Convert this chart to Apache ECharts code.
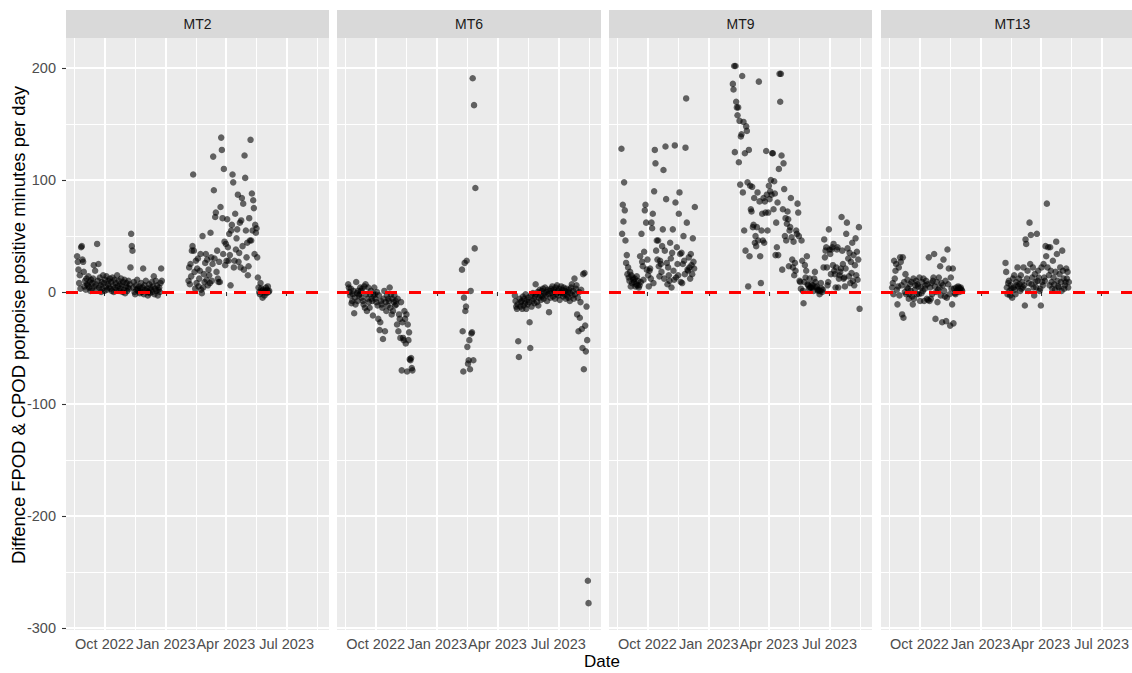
<!DOCTYPE html>
<html>
<head>
<meta charset="utf-8">
<script src="https://cdn.jsdelivr.net/npm/echarts@6/dist/echarts.min.js"></script>
<style>
  html, body { margin: 0; padding: 0; background: #ffffff; }
  #chart { width: 1132px; height: 673px; }
</style>
</head>
<body>
<div id="chart"></div>
<script>
// Daily difference (FPOD minus CPOD) in porpoise positive minutes, per mooring.
// Each deployment segment is a start date plus one value per consecutive day.
const siteNames = ['MT2', 'MT6', 'MT9', 'MT13'];

const mt2Starts = ['2022-08-21', '2023-02-04'];
const mt2Seg1 = [
  32, 27, 20, 8, 15, 3, 40, 41, 29, 27, 18, 5, 10, 2, 12, 7,
  6, 14, 4, 9, 1, 11, 3, 8, 12, 24, 5, 19, 7, 2, 43, 10, 25, 4, 13, 6, 0, 9, 3, 15, 8, 1, 11, 5, 14, 2, 7, 10, 4, 12,
  3, 9, 1, 13, 6, 0, 11, 4, 8, 2, 15, 5, 10, 1, 7, 3, 12, 6, 0, 9, 2, 11, -1, 5, 8, 1, 4, 10, 3, 7, 22, 52, 41, 37, 4, 9, 0, -2, 6, 2, 11, 3,
  1, 5, -1, 3, 8, 0, 4, 21, -2, 6, 2, 10, 1, 3, -3, 0, 7, -1, 4, 2, 9, 0, 5, 14, -2, 3, 10, 1, 6, -3, 2, 4, 0, 8, 21, 10
];
const mt2Seg2 = [
  10, 22, 7, 25, 14, 37, 41, 105, 37, 18,
  3, 28, 8, 21, 30, 5, 12, 19, 34, 2,
  -1, 50, 4, 16, 9, 26, 34, 11, 29, 6,
  20, 15, 8, 53, 31, 10, 25, 121, 91, 30,
  67, 71, 18, 37, 12, 9, 27, 9, 76, 138,
  127, 66, 34, 110, 45, 24, 43, 28, 65, 40,
  28, 52, 33, 6, 55, 60, 105, 98, 22, 28,
  70, 38, 48, 56, 87, 27, 35, 62, 22, 64,
  84, 41, 79, 20, 122, 102, 55, 31, 44, 15,
  23, 66, 46, 136, 46, 88, 55, 82, 75, 34,
  60, 53, 57, 31, 13, 4, 0, -2, 8, 3,
  1, -5, 2, 0, -3, 1, 4, -1, 2, 5, 0, 1
];

const mt6Starts = ['2022-08-21', '2023-02-07', '2023-04-27'];
const mt6Seg1 = [
  7, 4, 0, -3, 3, -10, -8, -2, 1, -19,
  -5, -11, 9, -1, -8, 1, -3, -2, 4, 1,
  -5, 3, -8, -11, 5, -14, 7, -2, -17, -6,
  4, -9, -14, -2, 1, -6, -8, -21, -3, 4,
  -2, -6, -9, 0, -12, -24, -3, -34, -27, -8,
  -11, -14, -42, -6, 1, -35, -9, -17, -3, -12,
  -6, -8, 4, -14, -2, -20, -6, -17, -9, -3,
  -12, -8, -11, -29, -6, -35, -20, -24, -41, -9,
  -70, -27, -41, -43, -17, -24, -46, -20, -71, -29,
  -43, -36, -60, -61, -59, -68, -70
];
const mt6Seg2 = [20, -35, -71, -5, 26, -17, -13, 28, -49, -64, -61, -43, -69, 1, -37, -36, 191, -61, 167, 39, 93];
const mt6Seg3 = [
  -3, -8, -13, -15, -11, -44, -58, -6, -13, -9,
  -8, -15, -4, -12, -6, -10, -2, -15, -7, -11,
  -5, -9, -27, -50, -3, -13, -8, -1, -6, -10,
  -4, 7, -2, -9, 0, -12, -5, 2, -3, -7,
  1, -4, 3, -6, -1, 4, -3, 0, -8, 2,
  -2, -18, 1, -5, 3, -1, 5, -4, 2, 0,
  -6, 4, -2, 6, 1, -3, 3, -7, 0, 5,
  -1, 2, -4, 4, -2, 1, -6, 3, -3, 0,
  -5, 2, -8, -1, 4, 7, -3, 1, -6, 12,
  -2, 3, 6, -20, -5, -35, 0, -23, -9, 2,
  -33, -50, 16, -69, 17, -30, -53, -13, -43, -258, -278
];

const mt9Starts = ['2022-08-23', '2023-02-06'];
const mt9Seg1 = [
  128, 52, 78, 63, 98, 73, 46, 26, 33, 16,
  22, 13, 10, 18, 5, 15, 8, 13, 11, 9,
  12, 5, 7, 14, 6, 10, 4, 6, 32, 9,
  52, 27, 23, 11, 36, 73, 78, 62, 20, 29,
  15, 5, 19, 21, 12, 62, 57, 70, 8, 90,
  127, 115, 37, 46, 29, 46, 23, 14, 28, 25,
  18, 41, 56, 109, 12, 37, 130, 83, 26, 7,
  22, 15, 10, 44, 30, 4, 35, 56, 19, 11,
  131, 80, 13, 40, 25, 15, 70, 89, 34, 9,
  35, 8, 25, 50, 28, 16, 129, 173, 62, 20,
  19, 31, 22, 12, 34, 24, 16, 48, 27, 21, 76
];
const mt9Seg2 = [
  186, 181, 202, 125, 202, 170, 165, 158, 165, 116,
  153, 96, 139, 141, 193, 89, 152, 55, 124, 37,
  148, 144, 98, 5, 127, 32, 95, 74, 72, 94,
  58, 60, 84, 44, 50, 41, 58, 89, 46, 188,
  81, 32, 8, 55, 70, 46, 84, 44, 81, 71,
  126, 87, 55, 71, 95, 83, 90, 100, 87, 124,
  124, 74, 99, 88, 33, 62, 40, 80, 33, 110,
  195, 170, 195, 122, 20, 74, 115, 92, 50, 66,
  46, 61, 72, 65, 23, 55, 58, 84, 49, 29,
  22, 45, 15, 26, 19, 55, 52, 79, 71, 50,
  10, 9, 3, 46, 28, 1, -10, 9, 24, 13,
  19, 32, 7, 6, 3, 12, 4, 4, 7, 4,
  6, 1, 12, 18, 9, 4, 5, 2, 1, 2,
  -2, 1, 8, 3, 0, 2, 22, 47, 31, 37,
  40, 22, 6, 9, 56, 38, 34, 16, 38, 40,
  24, 43, 19, 16, 4, 22, 38, 40, 4, 12,
  15, 18, 21, 67, 37, 25, 12, 13, 5, 21,
  52, 62, 39, 30, 14, 35, 8, 27, 17, 44,
  10, 33, 6, 24, 48, 15, 36, 11, 29, 58, -15
];

const mt13Starts = ['2022-08-21', '2023-02-07'];
const mt13Seg1 = [
  4, 8, -2, 28, 12, 19, 25, 2, -11, 5,
  22, -3, 31, 27, 6, -20, 31, -23, 9, 0,
  16, -2, 4, 11, 3, -6, -2, 7, 1, 9,
  -4, -11, 12, -6, 2, 6, 10, -2, 7, 5,
  -2, 13, -8, 4, -1, 9, 1, 12, -8, 3,
  6, 10, -6, 7, -7, 31, -8, 4, -6, 8,
  -2, 10, 13, 34, 5, -24, 0, 9, -9, 2,
  13, 4, 23, -3, 8, -27, 6, 29, 1, -4,
  10, -26, -5, 38, 7, 21, -2, -30, 13, 3,
  -11, 21, -28, 3, -1, -2, 4, 1, 2, 5,
  4, 0, 3, 4, 2, 1
];
const mt13Seg2 = [
  26, 18, 4, -2, 8, 10, 1, -3, 6, 3,
  -5, 12, 4, 15, 2, -2, 9, 6, 22, 5,
  12, 7, 1, 15, 3, 9, 4, 22, 6, -12,
  47, 43, 12, 19, 1, 8, 62, 25, 51, 7,
  13, 22, 4, -3, 16, 9, 4, 52, 10, 19,
  13, 1, 3, -12, 22, 9, 6, 25, 13, 10,
  41, 32, 79, 22, 40, 15, 6, 40, 19, 9,
  3, 28, 13, 7, 2, 18, 45, 34, 10, 5,
  4, 16, 22, 9, 1, 37, 19, 12, 3, 6,
  9, 21, 12, 18, 4, 9
];

// Axis breaks and labels
const xRange = ['2022-08-04T08:00:00Z', '2023-09-02T15:00:00Z'];
const xMajorBreaks = ['2022-10-01T00:00:00Z', '2023-01-01T00:00:00Z', '2023-04-01T00:00:00Z', '2023-07-01T00:00:00Z'];
const xMajorLabels = ['Oct 2022', 'Jan 2023', 'Apr 2023', 'Jul 2023'];
const xMinorBreaks = ['2022-08-16T00:00:00Z', '2022-11-16T00:00:00Z', '2023-02-15T00:00:00Z', '2023-05-16T12:00:00Z', '2023-08-16T00:00:00Z'];
const yRange = [-302, 227];
const yMajorBreaks = [-300, -200, -100, 0, 100, 200];
const yMinorBreaks = [-250, -150, -50, 50, 150];

const DAY = 86400000;
const toTime = s => Date.parse(s.length === 10 ? s + 'T00:00:00Z' : s);

function segmentPoints(starts, segments) {
  const pts = [];
  segments.forEach((vals, k) => {
    const t0 = toTime(starts[k]);
    vals.forEach((v, i) => pts.push([t0 + i * DAY, v]));
  });
  return pts;
}

const siteData = [
  segmentPoints(mt2Starts, [mt2Seg1, mt2Seg2]),
  segmentPoints(mt6Starts, [mt6Seg1, mt6Seg2, mt6Seg3]),
  segmentPoints(mt9Starts, [mt9Seg1, mt9Seg2]),
  segmentPoints(mt13Starts, [mt13Seg1, mt13Seg2])
];

// Facet geometry
const panelLeft = [66, 337, 609, 881];
const panelWidth = [263, 264, 263, 263];
const panelTop = 38;
const panelHeight = 592;
const stripTop = 10;
const stripHeight = 28;

const FONT = '"Liberation Sans", Arial, Helvetica, sans-serif';
const xMin = toTime(xRange[0]), xMax = toTime(xRange[1]);
const xMajorTs = xMajorBreaks.map(toTime);
const xMinorTs = xMinorBreaks.map(toTime);

const grids = [], xAxes = [], yAxes = [], series = [], graphics = [];

siteNames.forEach((name, i) => {
  grids.push({
    left: panelLeft[i], top: panelTop, width: panelWidth[i], height: panelHeight,
    show: true, backgroundColor: '#EBEBEB', borderWidth: 0, containLabel: false,
    outerBoundsMode: 'none'
  });

  // major x axis: ticks, labels, major grid
  xAxes.push({
    type: 'value', gridIndex: i, min: xMin, max: xMax, position: 'bottom',
    axisLine: { show: false },
    axisTick: { show: true, length: 4, customValues: xMajorTs, lineStyle: { color: '#333333', width: 1.1 } },
    axisLabel: {
      show: true, customValues: xMajorTs, margin: 6, color: '#4D4D4D', fontSize: 14.5, fontFamily: FONT,
      formatter: v => xMajorLabels[xMajorTs.indexOf(v)] || ''
    },
    splitLine: { show: true, lineStyle: { color: '#FFFFFF', width: 2 } }
  });
  // minor x grid
  xAxes.push({
    type: 'value', gridIndex: i, min: xMin, max: xMax, position: 'bottom',
    axisLine: { show: false },
    axisTick: { show: false, customValues: xMinorTs },
    axisLabel: { show: false, customValues: xMinorTs },
    splitLine: { show: true, lineStyle: { color: '#FFFFFF', width: 1 } }
  });

  yAxes.push({
    type: 'value', gridIndex: i, min: yRange[0], max: yRange[1], position: 'left',
    axisLine: { show: false },
    axisTick: { show: i === 0, length: 4, customValues: yMajorBreaks, lineStyle: { color: '#333333', width: 1.1 } },
    axisLabel: { show: i === 0, customValues: yMajorBreaks, margin: 10, color: '#4D4D4D', fontSize: 14.5, fontFamily: FONT },
    splitLine: { show: true, lineStyle: { color: '#FFFFFF', width: 2 } }
  });
  yAxes.push({
    type: 'value', gridIndex: i, min: yRange[0], max: yRange[1], position: 'left',
    axisLine: { show: false },
    axisTick: { show: false, customValues: yMinorBreaks },
    axisLabel: { show: false, customValues: yMinorBreaks },
    splitLine: { show: true, lineStyle: { color: '#FFFFFF', width: 1 } }
  });

  series.push({
    type: 'scatter', name: name,
    xAxisIndex: 2 * i, yAxisIndex: 2 * i,
    data: siteData[i],
    symbol: 'circle', symbolSize: 6.5,
    itemStyle: { color: 'rgba(0,0,0,0.74)', borderWidth: 0 },
    emphasis: { disabled: true },
    markLine: {
      silent: true, symbol: ['none', 'none'], animation: false,
      label: { show: false },
      lineStyle: { color: '#FF0000', width: 3, type: [12, 12] },
      emphasis: { disabled: true },
      data: [{ yAxis: 0 }]
    }
  });

  // facet strip
  graphics.push({
    type: 'rect', silent: true,
    shape: { x: panelLeft[i], y: stripTop, width: panelWidth[i], height: stripHeight },
    style: { fill: '#D9D9D9' }
  });
  graphics.push({
    type: 'text', silent: true,
    x: panelLeft[i] + panelWidth[i] / 2, y: stripTop + stripHeight / 2,
    style: {
      text: name, fill: '#1A1A1A', fontSize: 14, fontFamily: FONT,
      textAlign: 'center', textVerticalAlign: 'middle', align: 'center', verticalAlign: 'middle'
    }
  });
});

// axis titles
graphics.push({
  type: 'text', silent: true, x: 18, y: 325, rotation: Math.PI / 2,
  style: {
    text: 'Diffence FPOD & CPOD porpoise positive minutes per day', fill: '#000000', fontSize: 18.4, fontFamily: FONT,
    textAlign: 'center', textVerticalAlign: 'middle', align: 'center', verticalAlign: 'middle'
  }
});
graphics.push({
  type: 'text', silent: true, x: 602, y: 661,
  style: {
    text: 'Date', fill: '#000000', fontSize: 17, fontFamily: FONT,
    textAlign: 'center', textVerticalAlign: 'middle', align: 'center', verticalAlign: 'middle'
  }
});

const chart = echarts.init(document.getElementById('chart'), null, { renderer: 'svg', width: 1132, height: 673 });
chart.setOption({
  animation: false,
  backgroundColor: '#FFFFFF',
  grid: grids,
  xAxis: xAxes,
  yAxis: yAxes,
  series: series,
  graphic: graphics
});
</script>
</body>
</html>
